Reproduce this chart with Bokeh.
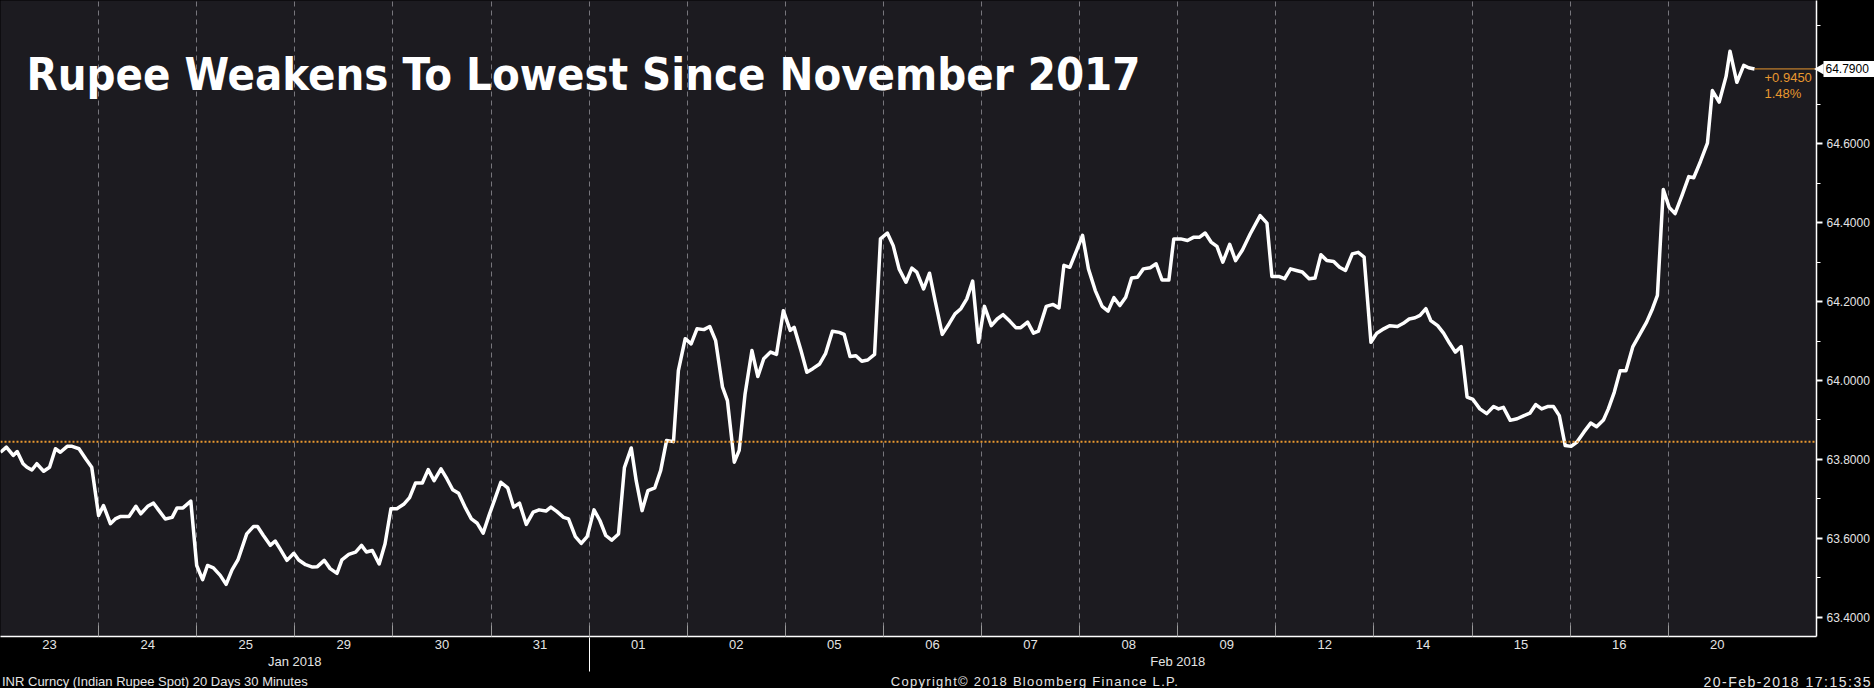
import math
from bokeh.plotting import figure
from bokeh.models import (Range1d, FixedTicker, NumeralTickFormatter, Label, Span,
                          LinearAxis, Div)
from bokeh.layouts import column
from bokeh.embed import file_html
from bokeh.resources import INLINE

# ---------------- data ----------------
title_text = "Rupee Weakens To Lowest Since November 2017"
day_labels = ["23", "24", "25", "29", "30", "31", "01", "02", "05", "06",
              "07", "08", "09", "12", "14", "15", "16", "20"]
month_labels = ["Jan 2018", "Feb 2018"]
month_start_day = [0, 6]
ref_value = 63.845          # prior close (orange dotted line)
y_ticks = [63.4, 63.6, 63.8, 64.0, 64.2, 64.4, 64.6]
y_minor = [63.5, 63.7, 63.9, 64.1, 64.3, 64.5, 64.7, 64.9]
footer_left = "INR Curncy (Indian Rupee Spot) 20 Days 30 Minutes"
footer_mid = "Copyright\u00a9 2018 Bloomberg Finance L.P."
footer_right = "20-Feb-2018 17:15:35"

# time position in trading days (30-minute bars), and INR spot value
days = [
    0.00, 0.06, 0.13, 0.17, 0.23, 0.27, 0.32, 0.37, 0.44, 0.50, 0.56, 0.61, 0.68, 0.73, 0.80, 0.87, 0.93,
    1.00, 1.05, 1.12, 1.17, 1.22, 1.31, 1.38, 1.43, 1.50, 1.56, 1.61, 1.68, 1.75, 1.80, 1.86, 1.94,
    2.00, 2.06, 2.11, 2.17, 2.24, 2.30, 2.36, 2.42, 2.51, 2.58, 2.62, 2.68, 2.75, 2.80, 2.85, 2.92,
    2.99, 3.04, 3.11, 3.18, 3.23, 3.30, 3.36, 3.43, 3.48, 3.55, 3.62, 3.68, 3.73, 3.79, 3.86, 3.92,
    3.98, 4.04, 4.11, 4.17, 4.23, 4.30, 4.36, 4.42, 4.49, 4.55, 4.61, 4.67, 4.74, 4.80, 4.86, 4.92,
    4.98, 5.04, 5.10, 5.17, 5.23, 5.29, 5.36, 5.43, 5.49, 5.56, 5.61, 5.67, 5.74, 5.79, 5.86, 5.92, 5.98,
    6.05, 6.11, 6.17, 6.23, 6.30, 6.36, 6.43, 6.48, 6.54, 6.60, 6.67, 6.73, 6.79, 6.86, 6.91,
    6.98, 7.04, 7.10, 7.17, 7.23, 7.29, 7.36, 7.41, 7.48, 7.53, 7.59, 7.66, 7.72, 7.78, 7.85, 7.91,
    7.98, 8.05, 8.09, 8.16, 8.22, 8.28, 8.35, 8.41, 8.48, 8.55, 8.60, 8.66, 8.72, 8.78, 8.84, 8.91,
    8.97, 9.04, 9.10, 9.16, 9.23, 9.29, 9.34, 9.41, 9.47, 9.53, 9.60, 9.67, 9.73, 9.79, 9.85, 9.91,
    9.97, 10.03, 10.10, 10.16, 10.22, 10.29, 10.35, 10.40, 10.47, 10.53, 10.58, 10.66, 10.73, 10.79, 10.84, 10.90,
    10.97, 11.03, 11.09, 11.16, 11.23, 11.29, 11.35, 11.41, 11.47, 11.53, 11.59, 11.65, 11.72, 11.78, 11.84, 11.91,
    11.96, 12.03, 12.10, 12.16, 12.22, 12.28, 12.34, 12.40, 12.46, 12.53, 12.59, 12.66, 12.74, 12.84, 12.91,
    12.96, 13.03, 13.09, 13.15, 13.21, 13.27, 13.34, 13.40, 13.46, 13.52, 13.59, 13.65, 13.71, 13.78, 13.84, 13.90,
    13.97, 14.03, 14.10, 14.16, 14.24, 14.30, 14.36, 14.42, 14.47, 14.53, 14.58, 14.65, 14.71, 14.77, 14.83, 14.89,
    14.95, 15.01, 15.08, 15.15, 15.22, 15.27, 15.32, 15.39, 15.46, 15.53, 15.59, 15.65, 15.71, 15.77, 15.83, 15.89,
    15.95, 16.01, 16.07, 16.14, 16.21, 16.27, 16.34, 16.39, 16.45, 16.51, 16.57, 16.64, 16.71, 16.78, 16.84, 16.89,
    16.95, 17.01, 17.07, 17.14, 17.21, 17.26, 17.33, 17.40, 17.45, 17.52, 17.59, 17.63, 17.70, 17.77, 17.82, 17.88,
]
inr = [
    63.818, 63.831, 63.810, 63.820, 63.789, 63.780, 63.773, 63.789, 63.770, 63.780, 63.827, 63.818, 63.833, 63.833, 63.827, 63.801, 63.780,
    63.658, 63.683, 63.637, 63.649, 63.655, 63.655, 63.681, 63.662, 63.681, 63.689, 63.672, 63.649, 63.653, 63.677, 63.677, 63.694,
    63.531, 63.495, 63.531, 63.525, 63.506, 63.483, 63.520, 63.545, 63.611, 63.630, 63.630, 63.607, 63.582, 63.593, 63.573, 63.544,
    63.562, 63.545, 63.533, 63.527, 63.528, 63.544, 63.523, 63.511, 63.545, 63.559, 63.565, 63.582, 63.565, 63.569, 63.535, 63.586,
    63.675, 63.675, 63.686, 63.703, 63.740, 63.740, 63.774, 63.746, 63.776, 63.751, 63.723, 63.714, 63.677, 63.649, 63.638, 63.613,
    63.658, 63.700, 63.742, 63.728, 63.679, 63.689, 63.635, 63.666, 63.672, 63.669, 63.679, 63.668, 63.653, 63.649, 63.604, 63.587, 63.604,
    63.672, 63.645, 63.607, 63.595, 63.611, 63.779, 63.829, 63.746, 63.670, 63.721, 63.728, 63.772, 63.848, 63.845, 64.025,
    64.106, 64.093, 64.131, 64.129, 64.137, 64.101, 63.983, 63.949, 63.793, 63.823, 63.966, 64.076, 64.010, 64.055, 64.072, 64.066,
    64.177, 64.127, 64.135, 64.076, 64.021, 64.030, 64.042, 64.068, 64.125, 64.122, 64.117, 64.061, 64.063, 64.049, 64.052, 64.066,
    64.359, 64.374, 64.342, 64.283, 64.249, 64.285, 64.275, 64.232, 64.272, 64.199, 64.117, 64.144, 64.169, 64.182, 64.207, 64.252,
    64.097, 64.188, 64.139, 64.156, 64.167, 64.150, 64.134, 64.134, 64.148, 64.120, 64.125, 64.188, 64.193, 64.184, 64.292, 64.287,
    64.330, 64.368, 64.283, 64.228, 64.188, 64.176, 64.210, 64.190, 64.211, 64.260, 64.262, 64.283, 64.286, 64.296, 64.255, 64.255,
    64.359, 64.359, 64.355, 64.363, 64.363, 64.374, 64.351, 64.340, 64.300, 64.345, 64.304, 64.331, 64.372, 64.418, 64.399,
    64.264, 64.264, 64.258, 64.283, 64.279, 64.275, 64.258, 64.260, 64.319, 64.304, 64.302, 64.287, 64.279, 64.321, 64.325, 64.313,
    64.097, 64.120, 64.131, 64.139, 64.137, 64.145, 64.156, 64.159, 64.165, 64.182, 64.152, 64.139, 64.120, 64.095, 64.072, 64.086,
    63.958, 63.952, 63.928, 63.916, 63.934, 63.928, 63.932, 63.899, 63.903, 63.911, 63.917, 63.939, 63.928, 63.934, 63.934, 63.911,
    63.835, 63.833, 63.844, 63.869, 63.892, 63.883, 63.900, 63.928, 63.970, 64.025, 64.025, 64.086, 64.117, 64.148, 64.182, 64.216,
    64.484, 64.439, 64.423, 64.469, 64.517, 64.514, 64.556, 64.602, 64.735, 64.706, 64.771, 64.835, 64.756, 64.799, 64.793, 64.790,
]

# ---------------- layout constants ----------------
PX_DAY = 98.1        # pixels per trading day
PX_UNIT = 394.4      # pixels per 1.0 INR
FRAME_W, FRAME_H = 1816, 636
RIGHT_W, BOTTOM_H = 58, 40
FOOT_H = 12
X0 = 0.0
X1 = X0 + FRAME_W / PX_DAY
Y1 = 64.0 + 380 / PX_UNIT
Y0 = Y1 - FRAME_H / PX_UNIT


def xd(px):
    return X0 + px / PX_DAY


def yd(py):
    return Y1 - py / PX_UNIT


BG = "#1c1b20"
ORANGE = "#e8982f"
TXT = "#e4e4e4"
FONT = "Liberation Sans"

p = figure(width=FRAME_W + RIGHT_W, height=FRAME_H + BOTTOM_H,
           x_range=Range1d(X0, X1), y_range=Range1d(Y0, Y1),
           y_axis_location="right", output_backend="svg", toolbar_location=None,
           min_border_left=0, min_border_top=0, min_border_right=RIGHT_W,
           min_border_bottom=BOTTOM_H,
           background_fill_color=BG, border_fill_color="#000000", outline_line_color=None)

# grid: dashed day separators
n_days = len(day_labels)
boundaries = list(range(1, n_days))
p.xgrid.ticker = FixedTicker(ticks=boundaries)
p.xgrid.grid_line_color = "#77767c"
p.xgrid.grid_line_dash = "5 4"
p.xgrid.grid_line_width = 1
p.ygrid.grid_line_color = None

# x axis: day labels centred in each day
centers = [k + 0.5 for k in range(n_days)]
xa = p.xaxis[0]
xa.ticker = FixedTicker(ticks=centers, minor_ticks=boundaries)
xa.major_label_overrides = {c: lab for c, lab in zip(centers, day_labels)}
xa.major_tick_line_color = None
xa.major_tick_in = 0
xa.major_tick_out = 0
xa.minor_tick_in = 11
xa.minor_tick_out = 0
xa.minor_tick_line_color = "#9a9a9a"
xa.axis_line_color = "white"
xa.axis_line_width = 1.5
xa.major_label_standoff = 3
xa.major_label_text_font = FONT
xa.major_label_text_font_size = "13px"
xa.major_label_text_color = TXT

# second row: month labels centred on each month's days
month_ends = month_start_day[1:] + [n_days]
month_centers = [(s + e) / 2 for s, e in zip(month_start_day, month_ends)]
ma = LinearAxis(ticker=FixedTicker(ticks=month_centers),
                major_label_overrides={c: lab for c, lab in zip(month_centers, month_labels)},
                axis_line_color=None, major_tick_line_color=None, minor_tick_line_color=None,
                major_tick_in=0, major_tick_out=0, major_label_standoff=2,
                major_label_text_font=FONT, major_label_text_font_size="13px",
                major_label_text_color=TXT)
p.add_layout(ma, "below")

# month boundary line running below the axis
ba = LinearAxis(ticker=FixedTicker(ticks=month_start_day[1:]),
                major_label_overrides={s: "" for s in month_start_day[1:]},
                axis_line_color=None, major_tick_line_color="white", major_tick_line_width=1,
                minor_tick_line_color=None, major_tick_in=34, major_tick_out=0,
                major_label_standoff=0, major_label_text_font_size="1px")
p.add_layout(ba, "below")

# y axis on the right
ya = p.yaxis[0]
ya.ticker = FixedTicker(ticks=y_ticks, minor_ticks=y_minor)
ya.formatter = NumeralTickFormatter(format="0.0000")
ya.major_label_text_font = FONT
ya.major_label_text_font_size = "12px"
ya.major_label_text_color = TXT
ya.major_label_standoff = 4
ya.major_tick_in = 0
ya.major_tick_out = 6
ya.major_tick_line_width = 2
ya.major_tick_line_color = "white"
ya.minor_tick_in = 0
ya.minor_tick_out = 4
ya.minor_tick_line_color = "white"
ya.axis_line_color = "white"
ya.axis_line_width = 1.5

# reference (prior close) dotted line
p.add_layout(Span(location=ref_value, dimension="width", line_color=ORANGE,
                  line_dash="2 2", line_width=2))

# main series
p.line(days, inr, line_color="white", line_width=3.5, line_join="round")

last_x, last_v = days[-1], inr[-1]
p.segment(x0=[last_x], y0=[last_v], x1=[X1], y1=[last_v], line_color=ORANGE, line_width=1)

change = last_v - ref_value
pct = change / ref_value * 100
p.add_layout(Label(x=xd(1764), y=yd(77), text="%+.4f" % change, text_color=ORANGE,
                   text_font=FONT, text_font_size="13px", text_baseline="middle"))
p.add_layout(Label(x=xd(1764), y=yd(93), text="%.2f%%" % pct, text_color=ORANGE,
                   text_font=FONT, text_font_size="13px", text_baseline="middle"))

# last value marker in the axis strip (overlay level, drawn outside the frame)
p.rect(x=[xd(1849)], y=[last_v], width=52, height=16, width_units="screen",
       height_units="screen", fill_color="white", line_color=None, level="overlay")
p.scatter(x=[xd(1820)], y=[last_v], marker="triangle", angle=math.pi / 2, size=11,
          fill_color="white", line_color=None, level="overlay")
p.text(x=[xd(1825)], y=[last_v], text=["%.4f" % last_v], text_color="black",
       text_font_size="12px", text_baseline="middle", text_align="left",
       level="overlay")

# title
p.add_layout(Label(x=xd(26), y=yd(74), text=title_text, text_color="white",
                   text_font="DejaVu Sans Condensed, DejaVu Sans", text_font_style="bold",
                   text_font_size="45px", text_baseline="middle"))

# footer line
span_style = "position:absolute;top:0;white-space:nowrap;"
footer_html = (
    '<div style="position:relative;width:%dpx;height:%dpx;font-family:\'%s\';font-size:13px;'
    'line-height:12px;color:%s;">' % (FRAME_W + RIGHT_W, FOOT_H, FONT, TXT)
    + '<span style="%sleft:2px;">%s</span>' % (span_style, footer_left)
    + '<span style="%sleft:1035px;transform:translateX(-50%%);letter-spacing:1.3px;">%s</span>'
    % (span_style, footer_mid)
    + '<span style="%sright:2px;font-size:14px;letter-spacing:1.5px;">%s</span>' % (span_style, footer_right)
    + '</div>'
)
footer = Div(text=footer_html, width=FRAME_W + RIGHT_W, height=FOOT_H, margin=(0, 0, 0, 0),
             styles={"background-color": "#000000"})

page = column(p, footer, spacing=0, margin=(0, 0, 0, 0), styles={"background-color": "#000000"})

html = file_html(page, INLINE, title="INR")
html = html.replace("</head>", "<style>html,body{background:#000000;overflow:hidden;}</style></head>")
open("out.html", "w").write(html)
